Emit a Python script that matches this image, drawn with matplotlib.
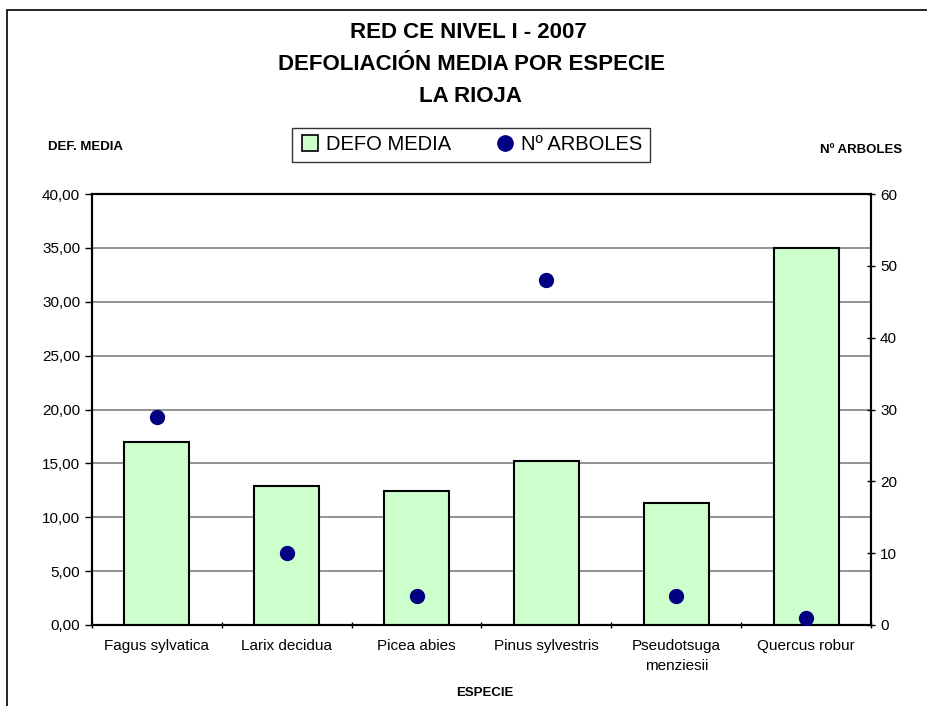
import matplotlib
matplotlib.use("Agg")
import matplotlib.pyplot as plt
from matplotlib.lines import Line2D
from matplotlib.patches import Rectangle
from matplotlib.ticker import FuncFormatter, MultipleLocator, FixedLocator

plt.rcParams["font.family"] = ["Liberation Sans", "DejaVu Sans"]

species = ["Fagus sylvatica", "Larix decidua", "Picea abies", "Pinus sylvestris",
           "Pseudotsuga\nmenziesii", "Quercus robur"]
defo_media = [17.0, 12.9, 12.4, 15.2, 11.3, 35.0]
n_arboles = [29, 10, 4, 48, 4, 1]

BAR_GREEN = "#CCFFCC"
NAVY = "#000080"

fig = plt.figure(figsize=(9.27, 7.06), dpi=100)
ax = fig.add_axes([92 / 927, 1 - 625 / 706, (871 - 92) / 927, (625 - 194) / 706])
ax2 = ax.twinx()

x = list(range(len(species)))
ax.bar(x, defo_media, width=0.5, color=BAR_GREEN, edgecolor="black",
       linewidth=1.5, zorder=3)
ax.set_xlim(-0.5, len(species) - 0.5)
ax.set_ylim(0, 40)
ax.yaxis.set_major_locator(MultipleLocator(5))
ax.yaxis.set_major_formatter(FuncFormatter(lambda v, _: f"{v:.2f}".replace(".", ",")))
ax.grid(axis="y", color="#808080", linewidth=1.2, zorder=0)
ax.set_axisbelow(True)

ax.set_xticks(x)
ax.set_xticklabels(species, fontsize=11, linespacing=1.6)
ax.tick_params(axis="x", which="major", length=0, pad=10)
ax.xaxis.set_minor_locator(FixedLocator([i - 0.5 for i in range(len(species) + 1)]))
ax.tick_params(axis="x", which="minor", length=5, width=1, direction="inout")
ax.tick_params(axis="y", labelsize=11, length=5, width=1, direction="out")

ax2.plot(x, n_arboles, linestyle="none", marker="o", markersize=10,
         color=NAVY, zorder=5)
ax2.set_ylim(0, 60)
ax2.yaxis.set_major_locator(MultipleLocator(10))
ax2.tick_params(axis="y", labelsize=11, length=6, width=1, direction="inout")

for a in (ax, ax2):
    for s in a.spines.values():
        s.set_linewidth(1.5)
        s.set_color("black")

# titles and axis labels
fig.text(468 / 927, 1 - 33 / 706, "RED CE NIVEL I - 2007", ha="center", va="center",
         fontsize=16, fontweight="bold")
fig.text(472 / 927, 1 - 65 / 706, "DEFOLIACIÓN MEDIA POR ESPECIE", ha="center",
         va="center", fontsize=16, fontweight="bold")
fig.text(470 / 927, 1 - 97 / 706, "LA RIOJA", ha="center", va="center",
         fontsize=16, fontweight="bold")
fig.text(86 / 927, 1 - 147 / 706, "DEF. MEDIA", ha="center", va="center",
         fontsize=9.5, fontweight="bold")
fig.text(861 / 927, 1 - 150 / 706, "Nº ARBOLES", ha="center", va="center",
         fontsize=9.5, fontweight="bold")
fig.text(485 / 927, 1 - 693 / 706, "ESPECIE", ha="center", va="center",
         fontsize=9.5, fontweight="bold")

handles = [
    Line2D([], [], linestyle="none", marker="s", markersize=12,
           markerfacecolor=BAR_GREEN, markeredgecolor="black", markeredgewidth=1.2),
    Line2D([], [], linestyle="none", marker="o", markersize=11, color=NAVY),
]
leg = fig.legend(handles, ["DEFO MEDIA", "Nº ARBOLES"], ncol=2, loc="center",
                 bbox_to_anchor=(471 / 927, 1 - 145 / 706), fontsize=14.5,
                 frameon=True, fancybox=False, edgecolor="black",
                 handletextpad=0.3, columnspacing=2.2, handlelength=1.0,
                 borderpad=0.35, borderaxespad=0)
leg.get_frame().set_linewidth(1.0)

# outer chart border
fig.patches.append(Rectangle((7 / 927, -0.05), 1.2, 1 - 10 / 706 + 0.05,
                             transform=fig.transFigure, fill=False,
                             edgecolor="black", linewidth=1.2))

fig.savefig("out.png", dpi=100)
